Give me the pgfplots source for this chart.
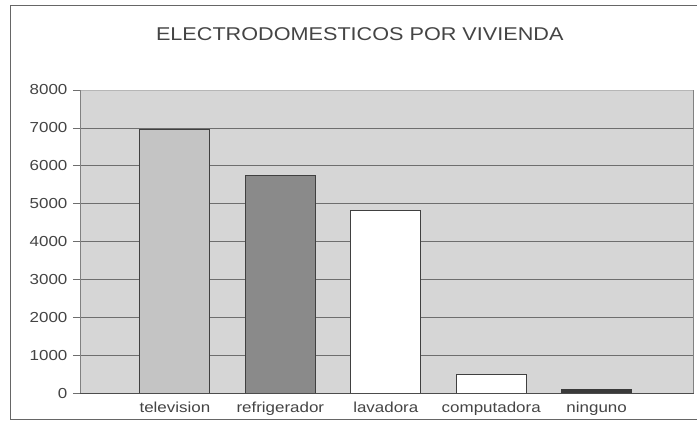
\documentclass[border=0pt]{standalone}
\usepackage{pgfplots}
\pgfplotsset{compat=1.18}
\usepackage{fontspec}
\setmainfont{Liberation Sans}[FakeStretch=1.17]
\definecolor{bg}{HTML}{D6D6D6}
\definecolor{gridc}{HTML}{6E6E6E}
\definecolor{tv}{HTML}{C4C4C4}
\definecolor{refr}{HTML}{8A8A8A}
\definecolor{ning}{HTML}{3A3A3A}
\definecolor{txt}{HTML}{444444}
\begin{document}
\begin{tikzpicture}
\begin{axis}[
  width=614pt, height=304pt, scale only axis,
  xmin=-0.9005, xmax=4.919, ymin=0, ymax=8000,
  clip=false,
  axis line style={draw=none},
  axis background/.style={fill=bg},
  xtick={0,1,2,3,4},
  xticklabels={television,refrigerador,lavadora,computadora,ninguno},
  major x tick style={draw=none},
  ytick={0,1000,2000,3000,4000,5000,6000,7000,8000},
  ytick pos=left, tick align=outside, major tick length=7pt,
  major y tick style={draw=gridc, line width=0.8pt},
  xmajorgrids=false, ymajorgrids=false,
  ticklabel style={font=\fontsize{14.5}{16}\selectfont, text=txt},
  xticklabel style={yshift=2pt},
  yticklabel style={xshift=-2pt},
  /pgf/number format/assume math mode=true,
  /pgf/number format/set thousands separator={},
  ybar, bar width=70pt, bar shift=0pt,
]
\pgfplotsinvokeforeach{1000,2000,3000,4000,5000,6000,7000}{
  \draw[gridc, line width=0.8pt] (rel axis cs:0,#1/8000) -- (rel axis cs:1,#1/8000);
}
\draw[bg!85!black, line width=0.6pt] (rel axis cs:0,1) -- (rel axis cs:1,1);
\addplot[fill=tv, draw=black!75, line width=0.9pt] coordinates {(0,6960)};
\addplot[fill=refr, draw=black!75, line width=0.9pt] coordinates {(1,5750)};
\addplot[fill=white, draw=black!75, line width=0.9pt] coordinates {(2,4830)};
\addplot[fill=white, draw=black!75, line width=0.9pt] coordinates {(3,500)};
\addplot[fill=ning, draw=ning, line width=0.9pt] coordinates {(4,100)};
\draw[bg!60!black, line width=0.8pt] (rel axis cs:0,0) -- (rel axis cs:0,1);
\draw[bg!60!black, line width=0.8pt] (rel axis cs:1,0) -- (rel axis cs:1,1);
\draw[black!70, line width=0.9pt] (rel axis cs:0,0) -- (rel axis cs:1,0);
\node[anchor=base, font=\fontsize{18.5}{20}\selectfont, text=txt, yshift=49.3pt] at (rel axis cs:0.456,1) {ELECTRODOMESTICOS POR VIVIENDA};
\end{axis}
\draw[black!60, line width=0.9pt]
  ([xshift=3pt,yshift=85pt]current axis.north east) -- ([xshift=-70pt,yshift=85pt]current axis.north west)
  -- ([xshift=-70pt,yshift=-26pt]current axis.south west) -- ([xshift=3pt,yshift=-26pt]current axis.south east);
\path ([xshift=-80pt,yshift=-28pt]current axis.south west) rectangle ([xshift=3pt,yshift=90pt]current axis.north east);
\end{tikzpicture}
\end{document}
